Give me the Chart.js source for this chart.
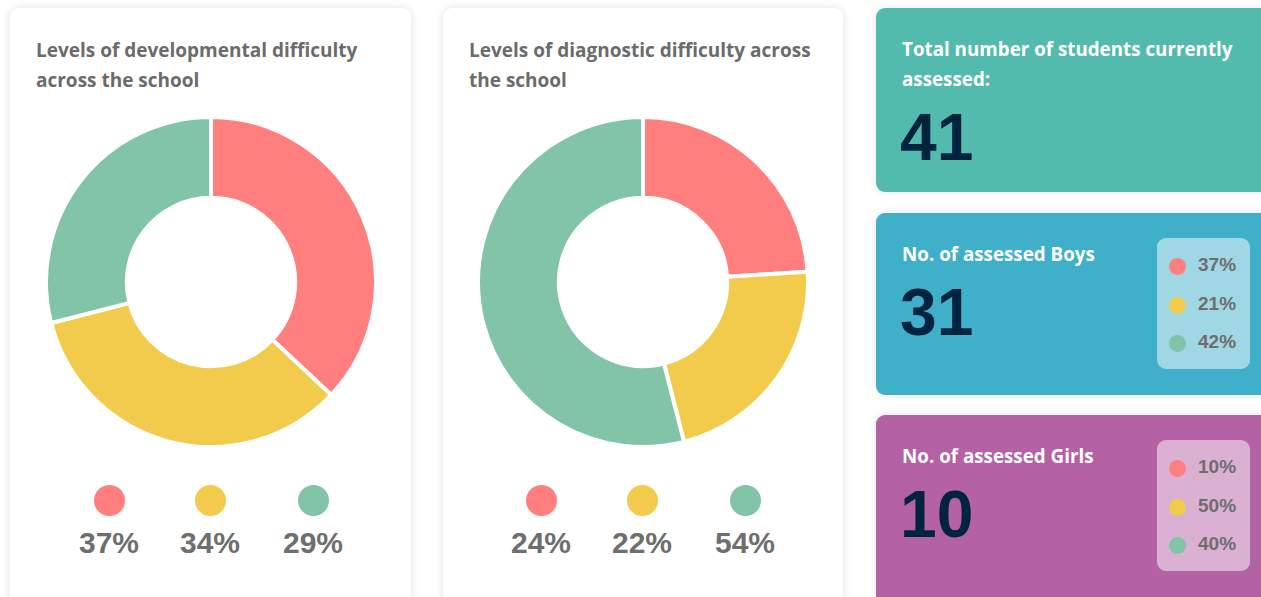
<!DOCTYPE html>
<html>
<head>
<meta charset="utf-8">
<script src="https://cdn.jsdelivr.net/npm/chart.js@4.4.1/dist/chart.umd.min.js"></script>
<style>
  html, body { margin: 0; padding: 0; background: #fff; width: 1261px; height: 597px; overflow: hidden; }
  body { position: relative; font-family: "Open Sans", "Noto Sans", sans-serif; }
  .card { position: absolute; background: #fff; border-radius: 9px; box-shadow: 0 0 10px rgba(0,0,0,0.12); }
  .title { position: absolute; left: 26px; top: 27px; width: 350px; font-size: 19px; font-weight: 700; color: #6b6b6b; line-height: 30px; }
  .donut { position: absolute; left: 34px; top: 107px; width: 334px; height: 334px; }
  .legend { position: absolute; top: 477px; left: 0; width: 100%; }
  .leg { position: absolute; width: 100px; text-align: center; }
  .leg .dot { width: 31px; height: 31px; border-radius: 50%; margin: 0 auto; }
  .leg .pct { font-family: "Liberation Sans", Arial, sans-serif; font-weight: 700; font-size: 30px; color: #6e6e6e; margin-top: 10px; }
  .stat { position: absolute; left: 876px; width: 400px; border-radius: 9px; box-shadow: 0 0 8px rgba(0,0,0,0.1); }
  .stat .st { position: absolute; left: 26px; top: 26px; font-size: 18.8px; font-weight: 700; color: #fff; line-height: 30px; width: 360px; }
  .stat .num { position: absolute; left: 24px; font-family: "Liberation Sans", Arial, sans-serif; font-weight: 700; font-size: 66px; color: #00243f; line-height: 1; }
  .mini { position: absolute; left: 281px; top: 25px; width: 93px; height: 131px; border-radius: 9px; background: rgba(255,255,255,0.5); }
  .mini .row { position: absolute; left: 12px; height: 20px; }
  .mini .d { position: absolute; left: 0; top: 2px; width: 17px; height: 17px; border-radius: 50%; }
  .mini .t { position: absolute; left: 29px; top: -2px; font-family: "Liberation Sans", Arial, sans-serif; font-weight: 700; font-size: 19px; color: #6e6e6e; }
</style>
</head>
<body>
  <div class="card" style="left:10px;top:8px;width:401px;height:620px;">
    <div class="title">Levels of developmental difficulty across the school</div>
    <div class="donut"><canvas id="c1"></canvas></div>
    <div class="legend" id="l1"></div>
  </div>
  <div class="card" style="left:443px;top:8px;width:400px;height:620px;">
    <div class="title">Levels of diagnostic difficulty across the school</div>
    <div class="donut" style="left:33px;"><canvas id="c2"></canvas></div>
    <div class="legend" id="l2"></div>
  </div>

  <div class="stat" style="top:8px;height:184px;background:#52bbad;">
    <div class="st">Total number of students currently assessed:</div>
    <div class="num" id="nTotal" style="top:96px;"></div>
  </div>
  <div class="stat" style="top:213px;height:182px;background:#40afca;">
    <div class="st">No. of assessed Boys</div>
    <div class="num" id="nBoys" style="top:66px;"></div>
    <div class="mini" id="mBoys"></div>
  </div>
  <div class="stat" style="top:415px;height:200px;background:#b462a4;">
    <div class="st">No. of assessed Girls</div>
    <div class="num" id="nGirls" style="top:66px;"></div>
    <div class="mini" id="mGirls"></div>
  </div>

<script>
// difficulty levels (same order in every chart)
const levels = ['Low', 'Medium', 'High'];
const levelColors = ['#ff7f7f', '#f2cb4c', '#82c4a8'];

// percentages
const developmental = [37, 34, 29];
const diagnostic    = [24, 22, 54];
const boysSplit     = [37, 21, 42];
const girlsSplit    = [10, 50, 40];

const totalStudents = 41;
const boysCount     = 31;
const girlsCount    = 10;

// ─── donut charts ───
function makeDonut(id, values) {
    return new Chart(document.getElementById(id).getContext('2d'), {
        type: 'doughnut',
        data: {
            labels: levels,
            datasets: [{
                data: values,
                backgroundColor: levelColors,
                borderColor: '#fff',
                borderWidth: 4,
                hoverOffset: 0
            }]
        },
        options: {
            responsive: true,
            maintainAspectRatio: false,
            animation: false,
            cutout: '51%',
            layout: { padding: 0 },
            plugins: {
                legend: { display: false },
                tooltip: { enabled: false }
            }
        }
    });
}
makeDonut('c1', developmental);
makeDonut('c2', diagnostic);

// ─── legends under the donuts ───
function makeLegend(id, values, xs) {
    const el = document.getElementById(id);
    values.forEach((v, i) => {
        const d = document.createElement('div');
        d.className = 'leg';
        d.style.left = (xs[i] - 50) + 'px';
        d.innerHTML = `<div class="dot" style="background:${levelColors[i]}"></div><div class="pct">${v}%</div>`;
        el.appendChild(d);
    });
}
makeLegend('l1', developmental, [99, 200, 303]);
makeLegend('l2', diagnostic, [98, 199, 302]);

// ─── stat cards ───
document.getElementById('nTotal').textContent = totalStudents;
document.getElementById('nBoys').textContent  = boysCount;
document.getElementById('nGirls').textContent = girlsCount;

function makeMini(id, values) {
    const el = document.getElementById(id);
    values.forEach((v, i) => {
        const r = document.createElement('div');
        r.className = 'row';
        r.style.top = (18 + i * 38.5) + 'px';
        r.innerHTML = `<div class="d" style="background:${levelColors[i]}"></div><div class="t">${v}%</div>`;
        el.appendChild(r);
    });
}
makeMini('mBoys', boysSplit);
makeMini('mGirls', girlsSplit);
</script>
</body>
</html>
